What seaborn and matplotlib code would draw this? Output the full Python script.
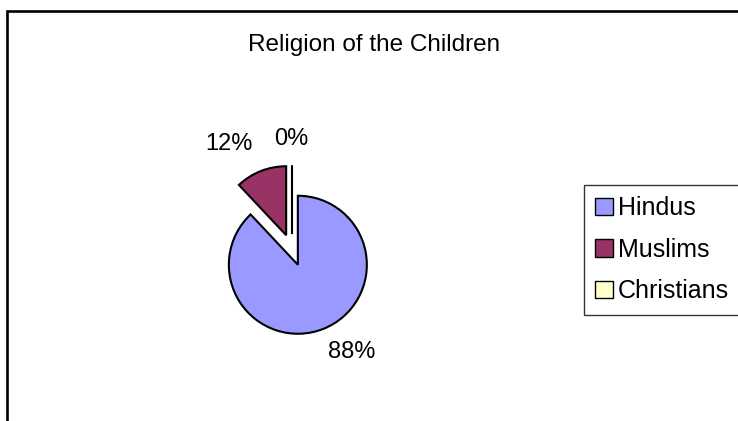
import matplotlib
matplotlib.use("Agg")
import matplotlib.pyplot as plt
import matplotlib.patches as mpatches
import seaborn as sns

categories = ["Hindus", "Muslims", "Christians"]
values = [88, 12, 0]
colors = ["#9999FF", "#993366", "#FFFFCC"]
title = "Religion of the Children"

sns.set_style("white")
plt.rcParams['font.family'] = ['Liberation Sans', 'DejaVu Sans']
plt.rcParams['text.color'] = 'black'

W, H = 738, 421
fig = plt.figure(figsize=(W / 100, H / 100), dpi=100)
fig.patch.set_facecolor("white")

# outer chart frame (extends past the right and bottom edges)
frame = mpatches.Rectangle((7 / W, -0.2), 1.2, (1 - 11 / H) + 0.2, transform=fig.transFigure,
                           fill=False, edgecolor="black", linewidth=1.9, clip_on=False)
fig.add_artist(frame)

R = 69.0  # pie radius in pixels
cx, cy = 292, 250
half = 150
ax = fig.add_axes([(cx - half) / W, (H - cy - half) / H, 2 * half / W, 2 * half / H])
ax.set_facecolor("none")

wedges, texts, autotexts = ax.pie(
    values, colors=colors, startangle=90, counterclock=False,
    explode=[0.23, 0.23, 0.23], radius=1,
    autopct=lambda p: f"{p:.0f}%", pctdistance=1.5,
    wedgeprops=dict(edgecolor="black", linewidth=1.5),
    textprops=dict(fontsize=17, color="black"),
)
# label placement similar to the original chart
label_pix = [(352, 352), (229, 144), (291, 139)]
for t, (px, py) in zip(autotexts, label_pix):
    t.set_position(((px - cx) / R, (cy - py) / R))
    t.set_ha("center")
    t.set_va("center")

lim = half / R
ax.set_xlim(-lim, lim)
ax.set_ylim(-lim, lim)
ax.set_aspect("equal")
ax.axis("off")

fig.text(374 / W, 1 - 51 / H, title, ha="center", va="baseline", fontsize=17.5)

leg = fig.legend(wedges, categories, loc="upper left", bbox_to_anchor=(584 / W, 1 - 185 / H),
                 frameon=True, fancybox=False, shadow=False, fontsize=18,
                 handlelength=0.7, handleheight=0.7, handletextpad=0.2,
                 labelspacing=0.7, borderpad=0.45, borderaxespad=0)
leg.get_frame().set_edgecolor("black")
leg.get_frame().set_linewidth(1.0)
for h in leg.legend_handles:
    h.set_linewidth(1.0)

fig.savefig("out.png", dpi=100)
